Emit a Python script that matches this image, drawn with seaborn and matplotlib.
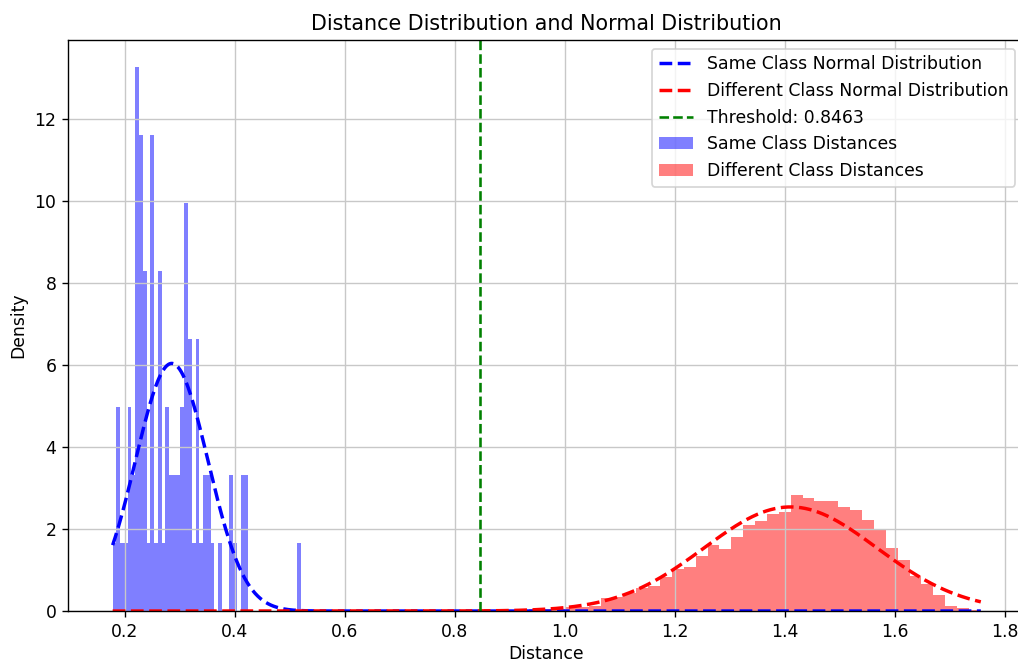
import numpy as np
import pandas as pd
import matplotlib
matplotlib.use("Agg")
import matplotlib.pyplot as plt
import seaborn as sns

# Same class distances: counts per bin (50 bins from same_min to same_max)
same_min, same_max = 0.1776, 0.52
same_counts = [1, 3, 1, 1, 3, 2, 8, 7, 5, 1, 7, 1, 5, 1, 3, 2, 2, 2, 3, 6,
               4, 1, 4, 1, 2, 2, 1, 0, 1, 0, 0, 2, 1, 0, 2, 2, 0, 0, 0, 0,
               0, 0, 0, 0, 0, 0, 0, 0, 0, 1]

# Different class distances: density per bin (50 bins from diff_min to diff_max)
diff_min, diff_max = 0.676, 1.756
diff_density = [0.0, 0.0, 0.01, 0.0, 0.01, 0.01, 0.01, 0.02, 0.02, 0.02,
                0.03, 0.03, 0.04, 0.05, 0.06, 0.09, 0.10, 0.12, 0.30, 0.33,
                0.42, 0.55, 0.60, 0.82, 1.00, 1.05, 1.32, 1.57, 1.47, 1.76,
                2.05, 2.15, 2.30, 2.35, 2.77, 2.69, 2.63, 2.63, 2.48, 2.40,
                2.17, 1.92, 1.49, 1.22, 0.83, 0.64, 0.37, 0.13, 0.07, 0.03]

# fitted normal parameters
same_mean, same_std = 0.285, 0.066
diff_mean, diff_std = 1.41, 0.157
threshold = 0.8463
n_bins = 50


def bin_centers(lo, hi, n):
    edges = np.linspace(lo, hi, n + 1)
    return (edges[:-1] + edges[1:]) / 2


def normal_pdf(x, mu, sd):
    return np.exp(-0.5 * ((x - mu) / sd) ** 2) / (sd * np.sqrt(2 * np.pi))


same_df = pd.DataFrame({"distance": bin_centers(same_min, same_max, n_bins),
                        "w": same_counts})
diff_df = pd.DataFrame({"distance": bin_centers(diff_min, diff_max, n_bins),
                        "w": diff_density})

# the picture is a scaled-up screenshot, so render at a higher dpi
dpi = 124
fig = plt.figure(figsize=(1019 / dpi, 661 / dpi), dpi=dpi)
# right edge of the axes runs a little past the picture (cropped screenshot)
ax = fig.add_axes([0.0672, 0.0756, 0.9377, 0.8639])

sns.histplot(data=same_df, x="distance", weights="w", bins=n_bins,
             binrange=(same_min, same_max), stat="density", color="blue",
             alpha=0.5, edgecolor="none", linewidth=0,
             label="Same Class Distances", ax=ax)
sns.histplot(data=diff_df, x="distance", weights="w", bins=n_bins,
             binrange=(diff_min, diff_max), stat="density", color="red",
             alpha=0.5, edgecolor="none", linewidth=0,
             label="Different Class Distances", ax=ax)

# normal curves over the full range of distances
xs = np.linspace(min(same_min, diff_min), max(same_max, diff_max), 1000)
sns.lineplot(x=xs, y=normal_pdf(xs, same_mean, same_std), color="blue",
             linestyle="--", linewidth=2, label="Same Class Normal Distribution", ax=ax)
sns.lineplot(x=xs, y=normal_pdf(xs, diff_mean, diff_std), color="red",
             linestyle="--", linewidth=2, label="Different Class Normal Distribution", ax=ax)
ax.axvline(threshold, color="green", linestyle="--", linewidth=1.5,
           label=f"Threshold: {threshold:.4f}")

ax.set_xlim(0.0973, 1.8345)
ax.set_ylim(0, 13.94)
ax.grid(True, color="#c8c8c8")
ax.set_title("Distance Distribution and Normal Distribution", fontsize=12)
ax.set_xlabel("Distance", labelpad=2)
ax.set_ylabel("Density")

handles, labels = ax.get_legend_handles_labels()
order = ["Same Class Normal Distribution", "Different Class Normal Distribution",
         f"Threshold: {threshold:.4f}", "Same Class Distances", "Different Class Distances"]
hmap = dict(zip(labels, handles))
ax.legend([hmap[l] for l in order], order, loc="upper right", fontsize=10)

fig.savefig("out.png", dpi=dpi)
